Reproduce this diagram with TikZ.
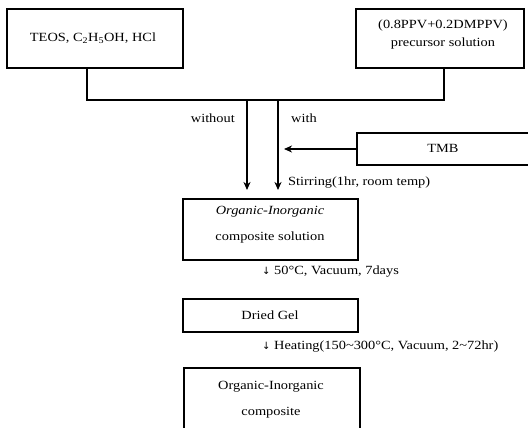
\documentclass[tikz,border=0pt]{standalone}
\usepackage{fontspec}
\setmainfont{Liberation Serif}[FakeStretch=1.15]
\newfontfamily\arrfont{DejaVu Sans}
\usetikzlibrary{arrows.meta}
\begin{document}
\begin{tikzpicture}[x=1pt,y=-1pt,
  every node/.style={font=\fontsize{12.5}{14}\selectfont, inner sep=0pt},
  boxline/.style={line width=1.3pt},
  conn/.style={line width=1.3pt},
  arr/.style={line width=1.3pt,-{Stealth[length=8pt,width=7pt,inset=2.5pt]}},
  lbl/.style={anchor=west}]
\useasboundingbox (0,0) rectangle (528,428);
% boxes
\draw[boxline] (7,9) rectangle (183,68);
\node (teos) at (93,38) {TEOS, C\textsubscript{2}H\textsubscript{5}OH, HCl};
\draw[boxline] (356,9) rectangle (524,68);
\node (ppv) at (443,25) {(0.8PPV+0.2DMPPV)};
\node (prec) at (443,43) {precursor solution};
\draw[boxline] (530,133) -- (357,133) -- (357,165) -- (530,165);
\node (tmb) at (443,148) {TMB};
\draw[boxline] (183,199) rectangle (358,260);
\node (cs1) at (270,212) {\itshape Organic-Inorganic};
\node (cs2) at (270,237) {composite solution};
\draw[boxline] (183,299) rectangle (358,332);
\node (gel) at (270,315) {Dried Gel};
\draw[boxline] (184,430) -- (184,368) -- (360,368) -- (360,430);
\node (oc1) at (271,387) {Organic-Inorganic};
\node (oc2) at (271,413) {composite};
% connectors
\coordinate (b1) at (87,68);
\coordinate (j1) at (87,100);
\coordinate (b2) at (444,68);
\coordinate (j2) at (444,100);
\draw[conn] (b1) -- (j1) -- (j2) -- (b2);
\coordinate (w0) at (247,100);
\coordinate (w1) at (247,190);
\coordinate (v0) at (278,100);
\coordinate (v1) at (278,190);
\draw[arr] (w0) -- (w1);
\draw[arr] (v0) -- (v1);
\coordinate (t0) at (357,149);
\coordinate (t1) at (284,149);
\draw[arr] (t0) -- (t1);
% labels
\node[anchor=east] (without) at (235,118) {without};
\node[lbl] (with) at (291,118) {with};
\node[lbl] (stir) at (288,183) {Stirring(1hr, room temp)};
\node[lbl] (vac) at (262,272) {{\arrfont\fontsize{10}{12}\selectfont↓} 50°C, Vacuum, 7days};
\node[lbl] (heat) at (262,347) {{\arrfont\fontsize{10}{12}\selectfont↓} Heating(150\textasciitilde300°C, Vacuum, 2\textasciitilde72hr)};
\end{tikzpicture}
\end{document}
